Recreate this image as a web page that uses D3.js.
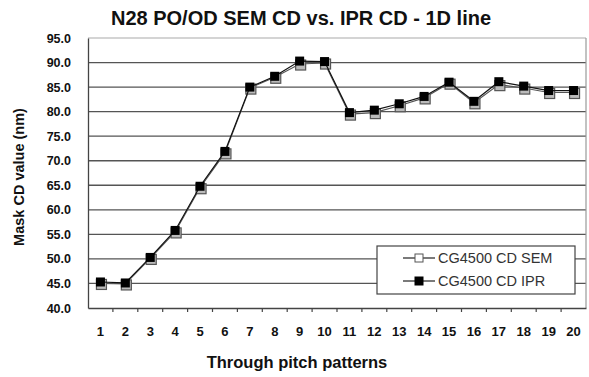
<!DOCTYPE html>
<html>
<head>
<meta charset="utf-8">
<script src="https://cdn.jsdelivr.net/npm/d3@7"></script>
<style>
  html, body { margin: 0; padding: 0; background: #fff; }
  svg { display: block; font-family: "Liberation Sans", Arial, sans-serif; }
</style>
</head>
<body>
<svg id="chart" width="589" height="377"></svg>
<script>
// Through-pitch pattern index
const patterns = d3.range(1, 21);
// Mask CD measured by SEM (nm)
const semCD = [45.0, 44.9, 50.1, 55.5, 64.5, 71.6, 84.8, 87.0, 89.7, 89.9,
               79.5, 79.8, 81.2, 82.8, 85.8, 81.8, 85.5, 84.8, 83.9, 83.9];
// Mask CD from IPR (nm)
const iprCD = [45.3, 45.1, 50.3, 55.8, 64.8, 71.9, 85.0, 87.2, 90.3, 90.2,
               79.8, 80.3, 81.6, 83.1, 86.0, 82.1, 86.1, 85.2, 84.3, 84.3];
const yTicks = d3.range(40, 95.01, 5);

const svg = d3.select("#chart");
const margin = { left: 88, right: 3, top: 38, bottom: 69 };
const W = 589, H = 377;
const innerW = W - margin.left - margin.right;
const innerH = H - margin.top - margin.bottom;

const x = d3.scaleBand().domain(patterns).range([margin.left, margin.left + innerW]);
const y = d3.scaleLinear().domain([40, 95]).range([margin.top + innerH, margin.top]);

// Title
svg.append("text")
  .attr("x", 301).attr("y", 25)
  .attr("text-anchor", "middle")
  .attr("font-size", 20).attr("font-weight", "bold").attr("fill", "#111")
  .text("N28 PO/OD SEM CD vs. IPR CD - 1D line");

// Horizontal gridlines
svg.append("g").selectAll("line")
  .data(yTicks.filter(v => v > 40 && v < 95))
  .join("line")
  .attr("x1", margin.left).attr("x2", margin.left + innerW)
  .attr("y1", d => y(d)).attr("y2", d => y(d))
  .attr("stroke", "#555").attr("stroke-width", 1.3);

// Plot frame (top and right)
svg.append("line")
  .attr("x1", margin.left).attr("x2", margin.left + innerW)
  .attr("y1", y(95)).attr("y2", y(95))
  .attr("stroke", "#aaa").attr("stroke-width", 1.2);
svg.append("line")
  .attr("x1", margin.left + innerW).attr("x2", margin.left + innerW)
  .attr("y1", y(95)).attr("y2", y(40))
  .attr("stroke", "#999").attr("stroke-width", 1.2);

// Y axis
const yAxis = svg.append("g")
  .attr("transform", `translate(${margin.left},0)`)
  .call(d3.axisLeft(y).tickValues(yTicks).tickFormat(d3.format(".1f")).tickSize(0).tickPadding(17));
yAxis.select(".domain").attr("stroke", "#444").attr("stroke-width", 1.3);
yAxis.selectAll("text")
  .attr("font-size", 12.5).attr("font-weight", "bold").attr("fill", "#111")
  .attr("font-family", "Liberation Sans, Arial, sans-serif");

// X axis (ticks between categories)
const xAxis = svg.append("g")
  .attr("transform", `translate(0,${margin.top + innerH})`)
  .call(d3.axisBottom(x).tickSize(0).tickPadding(19));
xAxis.select(".domain").attr("stroke", "#444").attr("stroke-width", 1.3);
xAxis.selectAll("text")
  .attr("font-size", 13).attr("font-weight", "bold").attr("fill", "#111")
  .attr("font-family", "Liberation Sans, Arial, sans-serif");
svg.append("g").selectAll("line")
  .data(patterns.slice(1))
  .join("line")
  .attr("x1", d => x(d)).attr("x2", d => x(d))
  .attr("y1", margin.top + innerH).attr("y2", margin.top + innerH + 4)
  .attr("stroke", "#444").attr("stroke-width", 1.2);

// Axis titles
svg.append("text")
  .attr("x", 297).attr("y", 368)
  .attr("text-anchor", "middle")
  .attr("font-size", 16.5).attr("font-weight", "bold").attr("fill", "#111")
  .text("Through pitch patterns");
svg.append("text")
  .attr("transform", `translate(24,${(y(95) + y(40)) / 2 + 4}) rotate(-90)`)
  .attr("text-anchor", "middle")
  .attr("font-size", 14.5).attr("font-weight", "bold").attr("fill", "#111")
  .text("Mask CD value (nm)");

const cx = d => x(d) + x.bandwidth() / 2;
const line = d3.line().x((d, i) => cx(patterns[i])).y(d => y(d));

// SEM series (open squares)
svg.append("path").datum(semCD)
  .attr("d", line).attr("fill", "none")
  .attr("stroke", "#555").attr("stroke-width", 1.1);
const ms = 10;
svg.append("g").selectAll("rect")
  .data(semCD)
  .join("rect")
  .attr("x", (d, i) => cx(patterns[i]) - ms / 2 + 1)
  .attr("y", d => y(d) - ms / 2 + 1)
  .attr("width", ms).attr("height", ms)
  .attr("fill", "#bbb").attr("stroke", "#555").attr("stroke-width", 1.2);

// IPR series (filled squares)
svg.append("path").datum(iprCD)
  .attr("d", line).attr("fill", "none")
  .attr("stroke", "#111").attr("stroke-width", 1.2);
const mi = 9;
svg.append("g").selectAll("rect")
  .data(iprCD)
  .join("rect")
  .attr("x", (d, i) => cx(patterns[i]) - mi / 2)
  .attr("y", d => y(d) - mi / 2)
  .attr("width", mi).attr("height", mi)
  .attr("fill", "#000");

// Legend
const lg = svg.append("g");
lg.append("rect")
  .attr("x", 377).attr("y", 246).attr("width", 198).attr("height", 48)
  .attr("fill", "#fff").attr("stroke", "#444").attr("stroke-width", 1.2);
const items = [
  { label: "CG4500 CD SEM", open: true, yy: 258 },
  { label: "CG4500 CD IPR", open: false, yy: 281 }
];
items.forEach(it => {
  lg.append("line")
    .attr("x1", 403).attr("x2", 435).attr("y1", it.yy).attr("y2", it.yy)
    .attr("stroke", "#222").attr("stroke-width", 1.2);
  lg.append("rect")
    .attr("x", 419 - 4).attr("y", it.yy - 4).attr("width", 8).attr("height", 8)
    .attr("fill", it.open ? "#fff" : "#000")
    .attr("stroke", it.open ? "#555" : "#000").attr("stroke-width", 1);
  lg.append("text")
    .attr("x", 438).attr("y", it.yy + 5)
    .attr("font-size", 14.5).attr("fill", "#333")
    .text(it.label);
});
</script>
</body>
</html>
